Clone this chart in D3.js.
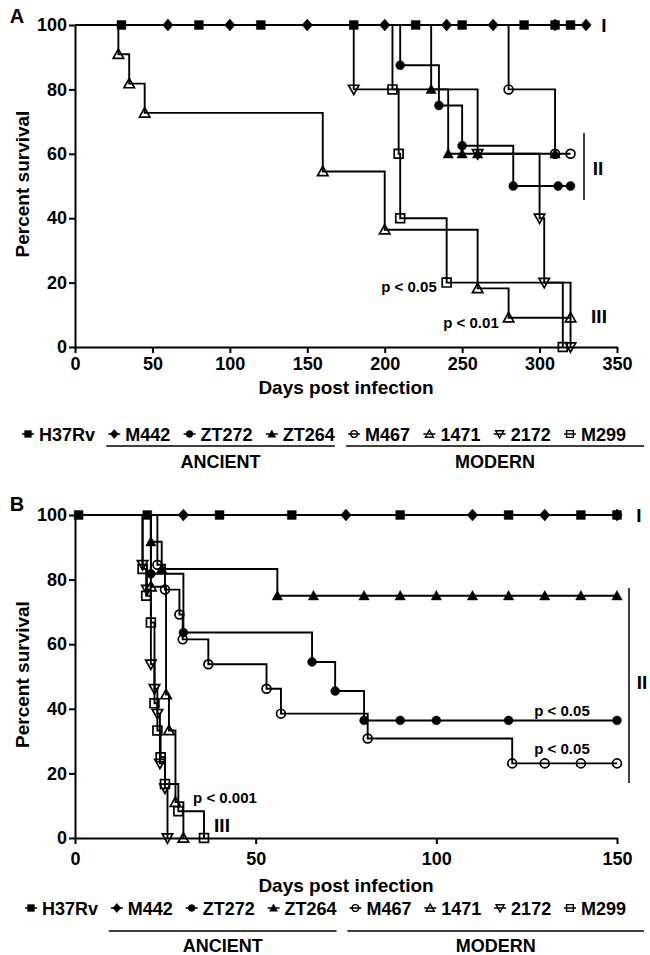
<!DOCTYPE html>
<html>
<head>
<meta charset="utf-8">
<script src="https://cdn.jsdelivr.net/npm/d3@7"></script>
<style>
body { margin: 0; background: #fff; }
text { font-family: "Liberation Sans", Arial, sans-serif; font-weight: bold; fill: #000; }
</style>
</head>
<body>
<svg id="chart" width="650" height="955"></svg>
<script>
// strains in legend order
var strains = ["H37Rv", "M442", "ZT272", "ZT264", "M467", "1471", "2172", "M299"];
var ancientGroup = ["M442", "ZT272", "ZT264"];
var modernGroup = ["M467", "1471", "2172", "M299"];

// tick labels
var xTicksA = [0, 50, 100, 150, 200, 250, 300, 350];
var xTicksB = [0, 50, 100, 150];
var yTicks = [0, 20, 40, 60, 80, 100];

// panel A: [day, percent survival] at each symbol
var aH37Rv = [[30,100],[80,100],[120,100],[180,100],[220,100],[250,100],[290,100],[310,100],[320,100]];
var aM442  = [[60,100],[100,100],[150,100],[200,100],[240,100],[270,100],[310,100],[330,100]];
var aZT272 = [[210,87.5],[235,75],[250,62.5],[283,50],[312,50],[320,50]];
var aZT264 = [[230,80],[241,60],[250,60],[260,60],[310,60]];
var aM467  = [[280,80],[310,60],[320,60]];
var a1471  = [[28,90.9],[35,81.8],[45,72.7],[160,54.5],[200,36.4],[260,18.2],[280,9.1],[320,9.1]];
var a2172  = [[180,80],[260,60],[300,40],[303,20],[320,0]];
var aM299  = [[205,80],[209,60],[210,40],[240,20],[315,0]];

// panel B
var bH37Rv = [[1,100],[20,100],[40,100],[60,100],[90,100],[120,100],[140,100],[150,100]];
var bM442  = [[30,100],[75,100],[110,100],[130,100],[150,100]];
var bZT272 = [[21,81.8],[30,63.6],[65.6,54.5],[72,45.5],[80,36.4],[90,36.4],[100,36.4],[120,36.4],[150,36.4]];
var bZT264 = [[21,91.7],[24,83.3],[56,75],[66,75],[80,75],[90,75],[100,75],[110,75],[120,75],[130,75],[140,75],[150,75]];
var bM467  = [[22.8,84.6],[24.9,76.9],[28.9,69.2],[29.8,61.5],[36.9,53.8],[53,46.2],[57,38.5],[81,30.8],[121,23.1],[130,23.1],[140,23.1],[150,23.1]];
var b1471  = [[21,77.8],[25.2,44.4],[26,33.3],[27.8,11.1],[30,0]];
var b2172  = [[18.7,84.6],[19.9,76.9],[21,53.8],[22,46.2],[22.8,38.5],[23.5,23.1],[24.9,15.4],[25.6,0]];
var bM299  = [[18.7,83.3],[19.7,75],[21,66.7],[22,41.7],[22.8,33.3],[23.7,25],[24.9,16.7],[28.6,8.3],[35.7,0]];

// marker shapes per strain
var shapes = {
    "H37Rv": {type: "square", fill: true},
    "M442":  {type: "diamond", fill: true},
    "ZT272": {type: "circle", fill: true},
    "ZT264": {type: "up", fill: true},
    "M467":  {type: "circle", fill: false},
    "1471":  {type: "up", fill: false},
    "2172":  {type: "down", fill: false},
    "M299":  {type: "square", fill: false}
};

function shapePath(type, r) {
    if (type == "square") return `M${-r*0.85},${-r*0.85}h${r*1.7}v${r*1.7}h${-r*1.7}Z`;
    if (type == "diamond") return `M0,${-r*1.15}L${r},0L0,${r*1.15}L${-r},0Z`;
    if (type == "circle") return d3.arc()({innerRadius: 0, outerRadius: r*0.85, startAngle: 0, endAngle: 2*Math.PI});
    if (type == "up") return `M0,${-r}L${r},${r*0.8}L${-r},${r*0.8}Z`;
    if (type == "down") return `M0,${r}L${r},${-r*0.8}L${-r},${-r*0.8}Z`;
}

var svg = d3.select("#chart");

var panels = [
    {
        label: "A", labelY: 23, xMax: 350, xTicks: xTicksA,
        top: 25, bottom: 347, tickPad: 4, titleY: 394,
        data: [aH37Rv, aM442, aZT272, aZT264, aM467, a1471, a2172, aM299],
        legendY: 434, legendStart: 22, legendEnd: 626, lineY: 446, groupY: 468,
        notes: [
            {t: "I", x: 604, y: 32, size: 19},
            {t: "II", x: 598, y: 175, size: 19},
            {t: "III", x: 599, y: 323, size: 19},
            {t: "p < 0.05", x: 409, y: 292, size: 15},
            {t: "p < 0.01", x: 471, y: 328, size: 15}
        ],
        bar: {x: 584, y1: 133, y2: 200}
    },
    {
        label: "B", labelY: 511, xMax: 150, xTicks: xTicksB,
        top: 515, bottom: 838, tickPad: 8, titleY: 892,
        data: [bH37Rv, bM442, bZT272, bZT264, bM467, b1471, b2172, bM299],
        legendY: 908, legendStart: 25, legendEnd: 626, lineY: 931, groupY: 952,
        notes: [
            {t: "I", x: 639, y: 522, size: 19},
            {t: "II", x: 642, y: 689, size: 19},
            {t: "III", x: 222, y: 832, size: 19},
            {t: "p < 0.05", x: 562, y: 716, size: 15},
            {t: "p < 0.05", x: 562, y: 754, size: 15},
            {t: "p < 0.001", x: 225, y: 803, size: 15}
        ],
        bar: {x: 629, y1: 588, y2: 783}
    }
];

panels.forEach(function(p) {
    var x = d3.scaleLinear().domain([0, p.xMax]).range([75, 617]);
    var y = d3.scaleLinear().domain([0, 100]).range([p.bottom, p.top]);

    var g = svg.append("g");

    // survival steps
    var line = d3.line()
        .x(d => x(d[0]))
        .y(d => y(d[1]))
        .curve(d3.curveStepAfter);

    p.data.forEach(function(pts) {
        g.append("path")
            .attr("d", line([[0, 100]].concat(pts)))
            .attr("fill", "none")
            .attr("stroke", "#000")
            .attr("stroke-width", 1.9);
    });

    p.data.forEach(function(pts, i) {
        var s = shapes[strains[i]];
        g.selectAll(null)
            .data(pts)
            .enter()
            .append("path")
            .attr("transform", d => `translate(${x(d[0])},${y(d[1])})`)
            .attr("d", shapePath(s.type, 5.2))
            .attr("fill", s.fill ? "#000" : "none")
            .attr("stroke", "#000")
            .attr("stroke-width", s.fill ? 0.5 : 1.7);
    });

    // axes
    var bottomAxis = d3.axisBottom(x).tickValues(p.xTicks).tickSize(6).tickPadding(p.tickPad).tickSizeOuter(0);
    var leftAxis = d3.axisLeft(y).tickValues(yTicks).tickSize(6).tickPadding(2).tickSizeOuter(0);

    var xa = g.append("g")
        .attr("transform", `translate(0, ${p.bottom})`)
        .call(bottomAxis);
    var ya = g.append("g")
        .attr("transform", "translate(75, 0)")
        .call(leftAxis);

    [xa, ya].forEach(function(a) {
        a.select(".domain").attr("stroke-width", 2);
        a.selectAll(".tick line").attr("stroke-width", 2);
        a.selectAll(".tick text")
            .attr("font-family", "Liberation Sans, Arial, sans-serif")
            .attr("font-weight", "bold")
            .attr("font-size", 18);
    });

    g.append("text")
        .attr("transform", `translate(29, ${(p.top + p.bottom) / 2 - 2}) rotate(-90)`)
        .attr("text-anchor", "middle")
        .style("font-size", "19px")
        .text("Percent survival");

    g.append("text")
        .attr("x", 346)
        .attr("y", p.titleY)
        .attr("text-anchor", "middle")
        .style("font-size", "19px")
        .text("Days post infection");

    g.append("text")
        .attr("x", 17)
        .attr("y", p.labelY)
        .attr("text-anchor", "middle")
        .style("font-size", "20px")
        .text(p.label);

    p.notes.forEach(function(n) {
        g.append("text")
            .attr("x", n.x)
            .attr("y", n.y)
            .attr("text-anchor", "middle")
            .style("font-size", n.size + "px")
            .text(n.t);
    });

    g.append("line")
        .attr("x1", p.bar.x).attr("x2", p.bar.x)
        .attr("y1", p.bar.y1).attr("y2", p.bar.y2)
        .attr("stroke", "#000")
        .attr("stroke-width", 1.5);

    // legend, spread across the width
    var lg = g.append("g");
    var items = strains.map(function(name) {
        var it = lg.append("g");
        var s = shapes[name];
        it.append("line").attr("x1", -6).attr("x2", 6).attr("stroke", "#000").attr("stroke-width", 1.5);
        it.append("path")
            .attr("d", shapePath(s.type, 4))
            .attr("fill", s.fill ? "#000" : "none")
            .attr("stroke", "#000")
            .attr("stroke-width", s.fill ? 0.5 : 1.4);
        var t = it.append("text")
            .attr("x", 11)
            .attr("y", 6.5)
            .style("font-size", "18px")
            .text(name);
        return {g: it, w: 11 + t.node().getComputedTextLength(), name: name};
    });
    var total = d3.sum(items, d => d.w);
    var gap = (p.legendEnd - p.legendStart - 6 - total) / (items.length - 1);
    var cx = p.legendStart + 6;
    var pos = {};
    items.forEach(function(it) {
        it.g.attr("transform", `translate(${cx}, ${p.legendY})`);
        pos[it.name] = {left: cx - 8, right: cx + it.w};
        cx += it.w + gap;
    });

    var groups = [
        {label: "ANCIENT", from: pos[ancientGroup[0]].left, to: pos[ancientGroup[ancientGroup.length - 1]].right},
        {label: "MODERN", from: pos[modernGroup[0]].left, to: Math.min(650, pos[modernGroup[modernGroup.length - 1]].right + 18)}
    ];
    groups.forEach(function(gr) {
        lg.append("line")
            .attr("x1", gr.from).attr("x2", gr.to)
            .attr("y1", p.lineY).attr("y2", p.lineY)
            .attr("stroke", "#000")
            .attr("stroke-width", 1.5);
        lg.append("text")
            .attr("x", (gr.from + gr.to) / 2)
            .attr("y", p.groupY)
            .attr("text-anchor", "middle")
            .style("font-size", "18px")
            .text(gr.label);
    });
});
</script>
</body>
</html>
